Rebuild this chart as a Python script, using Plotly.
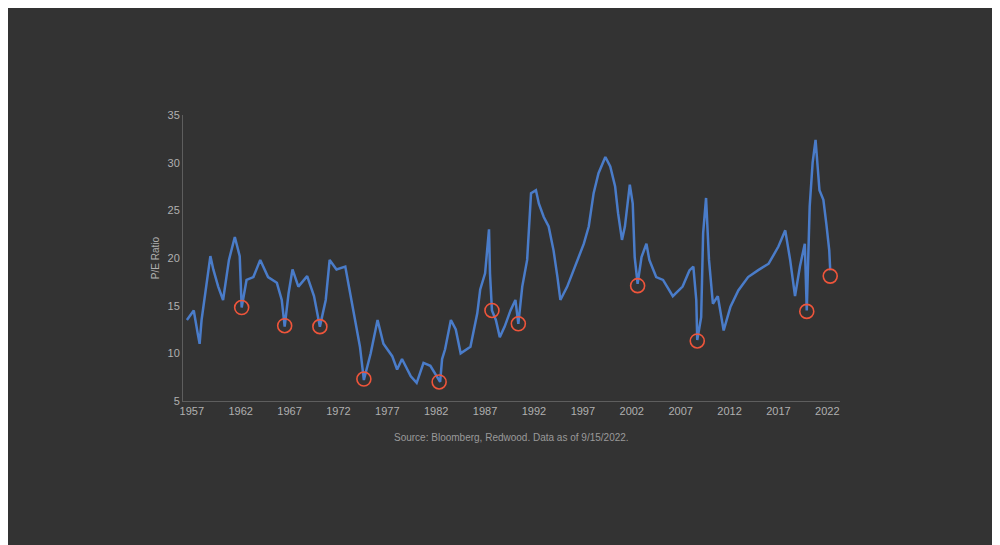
import plotly.graph_objects as go

# P/E ratio (year, value)
years = [1956.5, 1957.2, 1957.6, 1957.8, 1958.0, 1958.5, 1958.9, 1959.2, 1959.7, 1960.2,
         1960.8, 1961.4, 1961.9, 1962.1, 1962.6, 1963.3, 1964.0, 1964.8, 1965.7, 1966.2,
         1966.5, 1966.9, 1967.3, 1967.9, 1968.8, 1969.5, 1970.1, 1970.7, 1971.1, 1971.8,
         1972.7, 1973.0, 1973.6, 1974.2, 1974.6, 1975.3, 1976.0, 1976.6, 1977.5, 1978.0,
         1978.5, 1979.4, 1980.0, 1980.7, 1981.4, 1982.1, 1982.4, 1982.6, 1982.9, 1983.5,
         1984.0, 1984.5, 1985.5, 1986.2, 1986.5, 1987.0, 1987.4, 1987.5, 1987.7,
         1988.1, 1988.5, 1989.0, 1989.6, 1990.1, 1990.4, 1990.8, 1991.3, 1991.7, 1992.2,
         1992.5, 1993.0, 1993.5, 1994.0, 1994.4, 1994.7, 1995.4, 1996.2, 1997.1, 1997.6,
         1998.1, 1998.6, 1999.3, 1999.8, 2000.3, 2000.6, 2001.0, 2001.3, 2001.8, 2002.1,
         2002.3, 2002.6, 2003.0, 2003.5, 2003.8, 2004.5, 2005.2, 2006.2, 2007.2, 2007.9,
         2008.3, 2008.6, 2008.7, 2009.1, 2009.3, 2009.6, 2009.9, 2010.3, 2010.8, 2011.4,
         2012.1, 2012.9, 2013.9, 2014.9, 2016.0, 2017.0, 2017.7, 2018.2, 2018.7, 2019.2,
         2019.7, 2019.9, 2020.2, 2020.5, 2020.8, 2021.2, 2021.6, 2021.9, 2022.2, 2022.3]
pe = [13.5, 14.5, 12.1, 11.0, 13.5, 17.0, 20.2, 18.8, 17.0, 15.6,
      19.8, 22.2, 20.2, 14.8, 17.7, 18.0, 19.8, 18.0, 17.4, 15.6,
      12.8, 16.3, 18.8, 17.0, 18.1, 16.0, 12.8, 15.6, 19.8, 18.8,
      19.1, 17.4, 14.2, 10.7, 7.2, 10.0, 13.5, 11.0, 9.7, 8.3,
      9.4, 7.6, 6.9, 9.0, 8.7, 7.6, 7.0, 9.4, 10.4, 13.5,
      12.5, 10.0, 10.7, 14.2, 16.7, 18.4, 23.0, 18.4, 14.5,
      13.5, 11.7, 12.8, 14.5, 15.6, 13.1, 17.0, 19.8, 26.8, 27.1,
      25.7, 24.3, 23.3, 20.8, 18.0, 15.6, 17.0, 19.1, 21.5, 23.3,
      26.8, 28.9, 30.6, 29.6, 27.5, 24.7, 21.9, 23.3, 27.7, 25.7,
      20.1, 17.3, 20.1, 21.5, 19.8, 18.0, 17.7, 16.0, 17.0, 18.7,
      19.1, 15.6, 11.4, 13.8, 22.6, 26.3, 19.8, 15.2, 16.0, 12.4,
      14.9, 16.6, 18.0, 18.7, 19.4, 21.2, 22.9, 19.8, 16.0, 19.1,
      21.5, 14.5, 25.4, 30.0, 32.4, 27.1, 26.1, 23.6, 20.8, 18.7]

# circled troughs
trough_years = [1962.1, 1966.5, 1970.1, 1974.6, 1982.3, 1987.7, 1990.4, 2002.6, 2008.7, 2019.9, 2022.3]
trough_pe = [14.8, 12.9, 12.8, 7.3, 7.0, 14.5, 13.1, 17.1, 11.3, 14.4, 18.1]

tick_years = list(range(1957, 2023, 5))

bg = "#333333"
fig = go.Figure()
fig.add_trace(go.Scatter(x=years, y=pe, mode="lines",
                         line=dict(color="#4a7cc9", width=2.5), hoverinfo="skip"))
fig.add_trace(go.Scatter(x=trough_years, y=trough_pe, mode="markers",
                         marker=dict(symbol="circle-open", size=14,
                                     line=dict(color="#e8141c", width=1.6))))
fig.update_layout(
    width=1000, height=545, paper_bgcolor=bg, plot_bgcolor=bg,
    showlegend=False, margin=dict(l=175, r=168, t=107, b=152),
    font=dict(family="Liberation Sans Narrow, Liberation Sans", color="#b0b0b0", size=11),
    xaxis=dict(range=[1956.1, 2023.3], tickvals=tick_years,
               ticktext=[str(y) for y in tick_years], showgrid=False, zeroline=False,
               showline=True, linecolor="#5e5e5e", linewidth=1, ticks=""),
    yaxis=dict(range=[5, 35], dtick=5, showgrid=False, zeroline=False,
               showline=True, linecolor="#5e5e5e", linewidth=1,
               title=dict(text="P/E Ratio", font=dict(size=10), standoff=6)),
    annotations=[dict(text="Source: Bloomberg, Redwood. Data as of 9/15/2022.",
                      xref="paper", yref="paper", x=0.5, y=-0.155, showarrow=False,
                      font=dict(size=10, color="#9a9a9a"))],
)
fig.write_html("out.html")
